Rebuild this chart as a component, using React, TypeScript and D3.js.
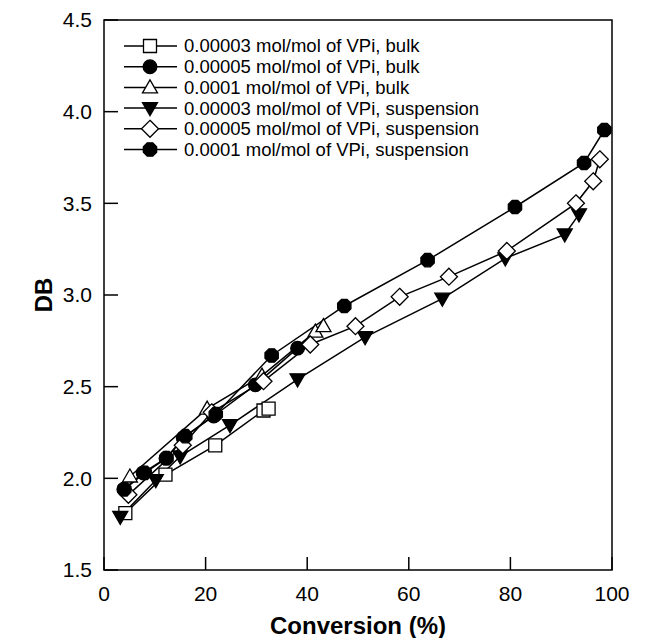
import React from "react";
import * as d3 from "d3";

const xTicks = [0, 20, 40, 60, 80, 100];
const yTicks = [1.5, 2.0, 2.5, 3.0, 3.5, 4.0, 4.5];

const seriesLabels = [
  "0.00003 mol/mol of VPi, bulk",
  "0.00005 mol/mol of VPi, bulk",
  "0.0001 mol/mol of VPi, bulk",
  "0.00003 mol/mol of VPi, suspension",
  "0.00005 mol/mol of VPi, suspension",
  "0.0001 mol/mol of VPi, suspension",
];
const seriesMarkers = ["square", "circle", "triUp", "triDown", "diamond", "octagon"];

const bulk3X = [4.2, 12.1, 21.9, 31.4, 32.4];
const bulk3Y = [1.81, 2.02, 2.18, 2.37, 2.38];

const bulk5X = [3.9, 7.7, 12.2, 15.6, 21.6, 29.8, 38.1];
const bulk5Y = [1.94, 2.03, 2.11, 2.22, 2.34, 2.51, 2.71];

const bulk10X = [5.1, 20.3, 31.1, 41.6, 43.2];
const bulk10Y = [2.01, 2.38, 2.56, 2.8, 2.83];

const susp3X = [3.2, 10.2, 15.0, 24.8, 38.1, 51.4, 66.6, 79.0, 90.7, 93.5];
const susp3Y = [1.79, 1.99, 2.12, 2.29, 2.54, 2.77, 2.98, 3.2, 3.33, 3.44];

const susp5X = [4.8, 15.5, 21.2, 31.4, 40.6, 49.5, 58.2, 67.9, 79.3, 92.9, 96.3, 97.6];
const susp5Y = [1.91, 2.18, 2.36, 2.53, 2.73, 2.83, 2.99, 3.1, 3.24, 3.5, 3.62, 3.74];

const susp10X = [4.0, 8.0, 12.3, 16.0, 22.0, 33.0, 47.3, 63.7, 80.9, 94.5, 98.5];
const susp10Y = [1.94, 2.03, 2.11, 2.23, 2.35, 2.67, 2.94, 3.19, 3.48, 3.72, 3.9];

const seriesX = [bulk3X, bulk5X, bulk10X, susp3X, susp5X, susp10X];
const seriesY = [bulk3Y, bulk5Y, bulk10Y, susp3Y, susp5Y, susp10Y];

const L = 104, R = 612, T = 20, B = 570;
const FONT = "Arial, 'Liberation Sans', Helvetica, sans-serif";

function markerPath(kind: string): { d: string; fill: string } {
  const s = 6.5;
  switch (kind) {
    case "square":
      return { d: `M${-s},${-s}H${s}V${s}H${-s}Z`, fill: "#fff" };
    case "circle":
      return { d: d3.symbol(d3.symbolCircle, Math.PI * 6.8 * 6.8)() as string, fill: "#000" };
    case "triUp":
      return { d: `M0,${-7.5}L${7.5},${5.5}L${-7.5},${5.5}Z`, fill: "#fff" };
    case "triDown":
      return { d: `M0,${7.5}L${7.5},${-5.5}L${-7.5},${-5.5}Z`, fill: "#000" };
    case "diamond":
      return { d: `M0,${-8.5}L8.5,0L0,8.5L-8.5,0Z`, fill: "#fff" };
    default: {
      const r = 7.2;
      const pts = d3.range(8).map((i) => {
        const a = Math.PI / 8 + (i * Math.PI) / 4;
        return [r * Math.cos(a), r * Math.sin(a)];
      });
      return { d: "M" + pts.map((p) => p.join(",")).join("L") + "Z", fill: "#000" };
    }
  }
}

function Marker({ kind, x, y }: { kind: string; x: number; y: number }) {
  const m = markerPath(kind);
  return (
    <path d={m.d} transform={`translate(${x},${y})`} fill={m.fill} stroke="#000" strokeWidth={1.3} />
  );
}

export default function App() {
  const x = d3.scaleLinear().domain([0, 100]).range([L, R]);
  const y = d3.scaleLinear().domain([1.5, 4.5]).range([B, T]);
  const line = d3
    .line<[number, number]>()
    .x((d) => x(d[0]))
    .y((d) => y(d[1]));

  const legendY0 = 46;
  const legendDy = 20.7;

  return (
    <svg
      width={649}
      height={638}
      style={{ position: "absolute", left: 0, top: 0, background: "#fff" }}
      fontFamily={FONT}
    >
      <rect x={0} y={0} width={649} height={638} fill="#fff" />
      {seriesX.map((xs, i) => (
        <path
          key={"l" + i}
          d={line(xs.map((v, j) => [v, seriesY[i][j]] as [number, number])) as string}
          fill="none"
          stroke="#000"
          strokeWidth={1.5}
        />
      ))}
      {seriesX.map((xs, i) =>
        xs.map((v, j) => (
          <Marker key={`m${i}-${j}`} kind={seriesMarkers[i]} x={x(v)} y={y(seriesY[i][j])} />
        ))
      )}
      <rect x={L} y={T} width={R - L} height={B - T} fill="none" stroke="#000" strokeWidth={1.5} />
      {yTicks.map((t) => (
        <g key={"y" + t}>
          <line x1={L} x2={L + 14} y1={y(t)} y2={y(t)} stroke="#000" strokeWidth={1.5} />
          <text x={L - 12} y={y(t)} dy="0.35em" textAnchor="end" fontSize={21}>
            {t.toFixed(1)}
          </text>
        </g>
      ))}
      {xTicks.map((t) => (
        <g key={"x" + t}>
          <line x1={x(t)} x2={x(t)} y1={B} y2={B - 13} stroke="#000" strokeWidth={1.5} />
          <text x={x(t)} y={594} dy="0.35em" textAnchor="middle" fontSize={21}>
            {t}
          </text>
        </g>
      ))}
      <text x={(L + R) / 2} y={626} dy="0.35em" textAnchor="middle" fontSize={24} fontWeight="bold">
        Conversion (%)
      </text>
      <text
        transform={`translate(44,${y(3.0)}) rotate(-90)`}
        dy="0.35em"
        textAnchor="middle"
        fontSize={24}
        fontWeight="bold"
      >
        DB
      </text>
      {seriesLabels.map((lab, i) => {
        const ly = legendY0 + i * legendDy;
        return (
          <g key={"lg" + i}>
            <line x1={124} x2={177} y1={ly} y2={ly} stroke="#000" strokeWidth={1.5} />
            <Marker kind={seriesMarkers[i]} x={150} y={ly} />
            <text x={184} y={ly} dy="0.35em" fontSize={18.5}>
              {lab}
            </text>
          </g>
        );
      })}
    </svg>
  );
}
